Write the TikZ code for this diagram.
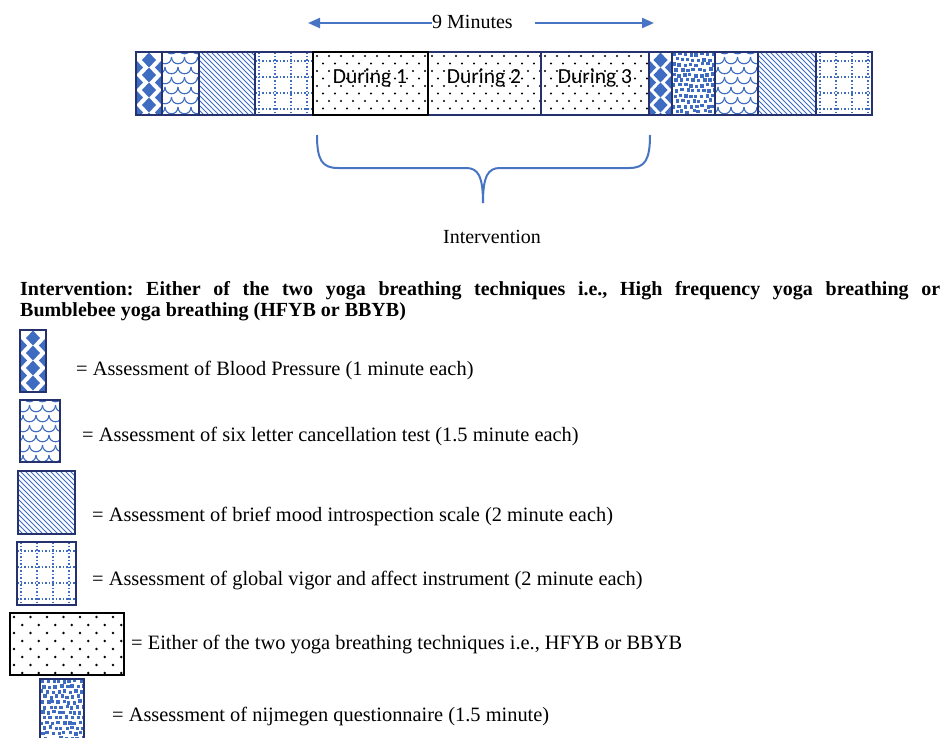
\documentclass[tikz,border=0pt]{standalone}
\usepackage{fontspec}
\usepackage{graphicx}
\setmainfont{Liberation Serif}
\newfontfamily\calib{Carlito}
\usetikzlibrary{arrows.meta}
\definecolor{patblue}{RGB}{62,108,192}
\definecolor{navy}{RGB}{38,50,112}
\definecolor{bracecol}{RGB}{72,116,196}
\tikzset{
  pat/.style={patblue, line width=1pt},
  dotl/.style={patblue, line width=1.7pt, dash pattern=on 1.7pt off 1.8pt},
  segb/.style={draw=navy, line width=2pt},
  segk/.style={draw=black, line width=2.2pt},
  legb/.style={draw=navy, line width=2.8pt},
  legk/.style={draw=black, line width=2.8pt},
  lbl/.style={font=\fontsize{20.4}{24}\selectfont, inner sep=0pt, anchor=base west},
  boldl/.style={font=\frenchspacing\bfseries\fontsize{20}{24}\selectfont, inner sep=0pt, anchor=base west},
  durtxt/.style={font=\calib\fontsize{21.5}{24}\selectfont, inner sep=0pt, anchor=base},
  arr/.style={bracecol, line width=2pt, -{Triangle[length=12pt,width=10pt]}},
  bracel/.style={bracecol, line width=2pt}
}
% ---- patterns (x1,y1,x2,y2) ----
\newcommand\patbp[4]{%
  \pgfmathsetmacro\cx{(#1+#3)/2}%
  \foreach \j in {0,...,5}{%
    \fill[patblue] ({\cx-7},{#2+8+15*\j}) -- ++(7,-7.5) -- ++(7,7.5) -- ++(-7,7.5) -- cycle;
    \fill[patblue] ({#1-7},{#2+15.5+15*\j}) -- ++(7,-7.5) -- ++(7,7.5) -- ++(-7,7.5) -- cycle;
    \fill[patblue] ({#3-7},{#2+15.5+15*\j}) -- ++(7,-7.5) -- ++(7,7.5) -- ++(-7,7.5) -- cycle;
  }}
\newcommand\patsix[4]{%
  \foreach \j in {0,...,8}{%
    \foreach \i in {0,...,5}{%
      \pgfmathsetmacro\xx{#1-10+13*\i+6.5*mod(\j,2)}%
      \pgfmathsetmacro\yy{#2-5+10*\j}%
      \draw[pat, line width=1.1pt] (\xx,\yy) .. controls (\xx,{\yy+9}) and ({\xx+13},{\yy+9}) .. ({\xx+13},\yy);
    }}}
\newcommand\patmood[4]{%
  \foreach \k in {-15,...,13}{%
    \draw[pat] ({#1+5*\k},{#2-2}) -- ({#1+5*\k+72},{#2+70});
  }}
\newcommand\patvig[4]{%
  \foreach \i in {0,...,4}{\draw[dotl] ({#1+4+16*\i},#2) -- ({#1+4+16*\i},#4);}
  \foreach \j in {0,...,4}{\draw[dotl] (#1,{#2+9+16*\j}) -- (#3,{#2+9+16*\j});}}
\newcommand\patdots[4]{%
  \foreach \j in {0,...,9}{%
    \foreach \i in {0,...,10}{%
      \fill[black] ({#1+4+12*\i+6*mod(\j,2)},{#2+4+7.5*\j}) circle (1.1);
    }}}
\newcommand\patdotsL[4]{%
  \foreach \j in {0,...,8}{%
    \foreach \i in {0,...,7}{%
      \fill[black] ({#1+4+16.5*\i+8.25*mod(\j,2)},{#2+4+8*\j}) circle (1.3);
    }}}
\newcommand\patnij[4]{%
  \foreach \j in {0,...,12}{%
    \foreach \i in {0,...,8}{%
      \pgfmathsetmacro\xx{#1+0.5+5.5*\i+2.75*mod(\j,2)+1.2*rand}%
      \pgfmathsetmacro\yy{#2+0.5+5.2*\j+1.0*rand}%
      \fill[patblue] (\xx,\yy) rectangle ++(3.4,3.4);
    }}}
\newcommand\seg[6]{%
  \begin{scope}
    \clip (#1,#2) rectangle (#3,#4);
    \csname pat#5\endcsname{#1}{#2}{#3}{#4}
  \end{scope}
  \draw[#6] (#1,#2) rectangle (#3,#4);}

\begin{document}
\begin{tikzpicture}[x=1pt,y=-1pt]
\pgfmathsetseed{7}
\useasboundingbox[fill=white] (0,0) rectangle (943,737);

% ---- timeline bar ----
\seg{136}{52}{162}{115}{bp}{segb}
\seg{162}{52}{199}{115}{six}{segb}
\seg{199}{52}{255}{115}{mood}{segb}
\seg{255}{52}{313}{115}{vig}{segb}
\seg{428}{52}{541}{115}{dots}{segb}
\seg{541}{52}{649}{115}{dots}{segb}
\seg{649}{52}{672}{115}{bp}{segb}
\seg{672}{52}{715}{115}{nij}{segb}
\seg{715}{52}{758}{115}{six}{segb}
\seg{758}{52}{816}{115}{mood}{segb}
\seg{816}{52}{872}{115}{vig}{segb}
\seg{313}{52}{428}{115}{dots}{segk}

\node[durtxt] (d1) at (370,83) {During 1};
\node[durtxt] (d2) at (484,83) {During 2};
\node[durtxt] (d3) at (595,83) {During 3};

% ---- 9 minutes arrows ----
\node[font=\fontsize{20}{24}\selectfont, inner sep=0pt, anchor=base west] (nine) at (432,28) {9 Minutes};
\coordinate (L1) at (308,23);
\coordinate (R0) at (535,23);
\coordinate (R1) at (654,23);
\draw[arr] (nine.west |- L1) -- (L1);
\draw[arr] (R0) -- (R1);

% ---- brace ----
\coordinate (bl) at (317,135);
\coordinate (br) at (650,135);
\coordinate (bt) at (483,203);
\draw[bracel] (bl) .. controls (317,160) and (322,168) .. (338,168) -- (466,168)
   .. controls (478,168) and (483,176) .. (bt);
\draw[bracel] (br) .. controls (650,160) and (645,168) .. (629,168) -- (500,168)
   .. controls (488,168) and (483,176) .. (bt);
\node[font=\fontsize{20}{24}\selectfont, inner sep=0pt, anchor=base] (intv) at (492,243) {Intervention};

% ---- bold description ----
\node[boldl] (desc1) at (20,295)
  {\makebox[920pt][s]{Intervention: Either of the two yoga breathing techniques i.e., High frequency yoga breathing or}};
\node[boldl] (desc2) at (20,316)
  {Bumblebee yoga breathing (HFYB or BBYB)};

% ---- legend ----
\seg{20}{330}{46}{392}{bp}{legb}
\seg{20}{400}{60}{462}{six}{legb}
\seg{18}{471}{75}{534}{mood}{legb}
\seg{17}{542}{76}{605}{vig}{legb}
\seg{10}{613}{124}{675}{dotsL}{legk}
\seg{40}{679}{84}{745}{nij}{legb}

\node[lbl] (l1) at (76,375) {= Assessment of Blood Pressure (1 minute each)};
\node[lbl] (l2) at (82,441) {= Assessment of six letter cancellation test (1.5 minute each)};
\node[lbl] (l3) at (92,521) {= Assessment of brief mood introspection scale (2 minute each)};
\node[lbl] (l4) at (92,585) {= Assessment of global vigor and affect instrument (2 minute each)};
\node[lbl] (l5) at (131,649) {= Either of the two yoga breathing techniques i.e., HFYB or BBYB};
\node[lbl] (l6) at (112,721) {= Assessment of nijmegen questionnaire (1.5 minute)};
\end{tikzpicture}
\end{document}
